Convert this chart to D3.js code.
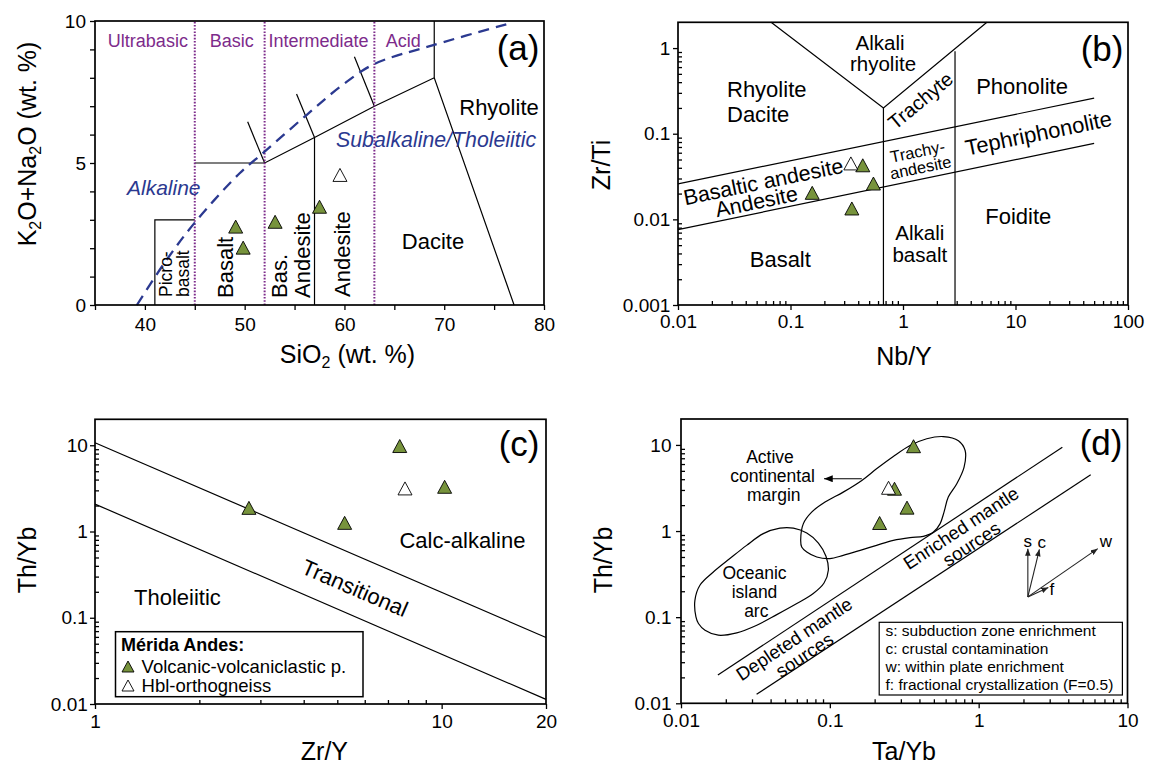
<!DOCTYPE html>
<html>
<head>
<meta charset="utf-8">
<script src="https://cdn.jsdelivr.net/npm/d3@7"></script>
<style>
  body { margin: 0; background: #fff; }
  text { font-family: "Liberation Sans", Arial, Helvetica, sans-serif; }
</style>
</head>
<body>
<script>
// ---------- values ----------

// (a) TAS: SiO2 vs K2O+Na2O
const tasVolcanic = [[49.1, 2.76], [49.85, 2.02], [53.05, 2.93], [57.5, 3.46]];
const tasOrthogneiss = [[59.55, 4.58]];
const tasFieldLines = [
    [[41, 0], [41, 3], [45, 3]],
    [[45, 5], [52, 5], [57, 5.9], [63, 7], [69, 8], [77, 0]],
    [[57, 0], [57, 5.9]],
    [[69, 8], [69, 10]],
    [[52, 5], [50.3, 6.45]],
    [[57, 5.9], [55.2, 7.43]],
    [[63, 7], [61, 8.74]]
];
const silicaLimits = [45, 52, 63];
const silicaClasses = ["Ultrabasic", "Basic", "Intermediate", "Acid"];
const alkalineDivide = [[39.2, 0], [42, 1.5], [45, 2.9], [49.5, 4.64], [52, 5.4], [56.2, 6.69],
    [59.6, 7.69], [62.9, 8.47], [68.9, 9.15], [76.6, 9.92]];

// (b) Nb/Y vs Zr/Ti
const nbyVolcanic = [[0.439, 0.0428], [0.546, 0.0262], [0.156, 0.0204], [0.351, 0.0134]];
const nbyOrthogneiss = [[0.344, 0.045]];
const nbyFieldLines = [
    [[0.0672, 2], [0.67, 0.2], [5.57, 2]],
    [[0.67, 0.2], [0.67, 0.001]],
    [[2.9, 0.92], [2.9, 0.001]],
    [[0.01, 0.026], [50, 0.26]],
    [[0.01, 0.0076], [50, 0.077]]
];

// (c) Zr/Y vs Th/Yb
const zryVolcanic = [[2.78, 1.88], [5.25, 1.26], [7.57, 9.8], [10.2, 3.3]];
const zryOrthogneiss = [[7.84, 3.16]];
const zryFieldLines = [
    [[1, 10.7], [20, 0.059]],
    [[1, 2.08], [20, 0.0113]]
];
const legendTitle = "Mérida Andes:";
const legendLabels = ["Volcanic-volcaniclastic p.", "Hbl-orthogneiss"];

// (d) Ta/Yb vs Th/Yb
const taybVolcanic = [[0.365, 9.66], [0.272, 3.1], [0.33, 1.87], [0.216, 1.24]];
const taybOrthogneiss = [[0.248, 3.18]];
const mantleArray = [
    [[0.0177, 0.0213], [3.65, 9.4]],
    [[0.0322, 0.0127], [5.66, 4.5]]
];
const acmField = [[0.0637, 0.78], [0.0664, 1.22], [0.0755, 1.66], [0.0929, 2.17], [0.123, 2.83],
    [0.164, 3.87], [0.206, 5.28], [0.267, 7.34], [0.346, 9.84], [0.448, 11.8], [0.579, 12.5],
    [0.731, 11.2], [0.811, 8.61], [0.798, 5.52], [0.713, 3.54], [0.625, 2.48], [0.585, 1.66],
    [0.551, 1.22], [0.497, 0.973], [0.425, 0.869], [0.346, 0.84], [0.267, 0.78], [0.206, 0.682],
    [0.16, 0.597], [0.123, 0.522], [0.1, 0.479], [0.0817, 0.5], [0.07, 0.571], [0.0647, 0.653]];
const oiaField = [[0.0126, 0.1008], [0.0124, 0.157], [0.0134, 0.235], [0.0165, 0.335], [0.0213, 0.479],
    [0.0276, 0.682], [0.0357, 0.933], [0.0462, 1.08], [0.0569, 1.08], [0.07, 0.948], [0.0838, 0.726],
    [0.0942, 0.509], [0.0977, 0.351], [0.0914, 0.249], [0.0774, 0.188], [0.06, 0.144], [0.044, 0.107],
    [0.0323, 0.0807], [0.0237, 0.0658], [0.0178, 0.0618], [0.0145, 0.0706], [0.0131, 0.0845]];
const vectorOrigin = [2.14, 0.172];
const vectorTips = [["s", [2.14, 0.625]], ["c", [2.56, 0.614]], ["w", [6.31, 0.625]], ["f", [2.94, 0.221]]];
const acmPointer = [[0.164, 4.05], [0.0914, 4.05]];
const vectorNotes = ["s: subduction zone enrichment", "c: crustal contamination",
    "w: within plate enrichment", "f: fractional crystallization (F=0.5)"];

// ---------- drawing ----------
const W = 1149, H = 765;
const GREEN = "#77933c", BLUE = "#2b3990", PURPLE = "#7d2b8b";

const svg = d3.select("body").append("svg").attr("width", W).attr("height", H);
svg.append("rect").attr("width", W).attr("height", H).attr("fill", "#fff");

const defs = svg.append("defs");
defs.append("marker").attr("id", "headBig")
    .attr("viewBox", "0 0 10 8").attr("refX", 10).attr("refY", 4)
    .attr("markerWidth", 9).attr("markerHeight", 7).attr("markerUnits", "userSpaceOnUse")
    .attr("orient", "auto")
    .append("path").attr("d", "M0,0 L10,4 L0,8 Z").attr("fill", "#000");
defs.append("marker").attr("id", "headSmall")
    .attr("viewBox", "0 0 10 8").attr("refX", 10).attr("refY", 4)
    .attr("markerWidth", 7).attr("markerHeight", 6).attr("markerUnits", "userSpaceOnUse")
    .attr("orient", "auto")
    .append("path").attr("d", "M0,0 L10,4 L0,8 Z").attr("fill", "#222");

function txt(g, s, x, y, o = {}) {
    const t = g.append("text").attr("x", x).attr("y", y).text(s)
        .attr("font-size", o.size || 22)
        .attr("fill", o.color || "#000")
        .attr("text-anchor", o.anchor || "middle");
    if (o.italic) t.attr("font-style", "italic");
    if (o.bold) t.attr("font-weight", "bold");
    if (o.mid) t.attr("dominant-baseline", "central");
    if (o.rotate) t.attr("transform", `rotate(${o.rotate},${x},${y})`);
    return t;
}

// triangle with its bounding box centred on the point
const TRI = "M0,-6.5L7,6.5L-7,6.5Z";
const TRI_SMALL = "M0,-5.5L6,5.5L-6,5.5Z";

function logMinors(scale) {
    const [a, b] = scale.domain();
    const out = [];
    for (let e = Math.floor(Math.log10(a)); e <= Math.ceil(Math.log10(b)); e++) {
        for (let k = 2; k <= 9; k++) {
            const v = k * Math.pow(10, e);
            if (v > a * 1.0001 && v < b * 0.9999) out.push(v);
        }
    }
    return out;
}

function axisStyle(g) {
    g.select(".domain").remove();
    g.selectAll("line").attr("stroke", "#000").attr("stroke-width", 1.3);
    g.selectAll("text").attr("font-size", 19).attr("fill", "#000");
}

function drawAxes(x, y, o) {
    const [xl, xr] = x.range(), [yb, yt] = y.range();
    svg.append("g").attr("transform", `translate(0,${yb})`)
        .call(d3.axisBottom(x).tickValues(o.xTicks).tickFormat(o.xFmt).tickSize(5).tickPadding(o.xPad))
        .call(axisStyle);
    svg.append("g").attr("transform", `translate(${xl},0)`)
        .call(d3.axisLeft(y).tickValues(o.yTicks).tickFormat(o.yFmt).tickSize(5).tickPadding(o.yPad))
        .call(axisStyle);
    if (o.xMinor) {
        svg.append("g").attr("transform", `translate(0,${yb})`)
            .call(d3.axisBottom(x).tickValues(o.xMinor).tickFormat("").tickSize(-4))
            .call(axisStyle);
    }
    if (o.yMinor) {
        svg.append("g").attr("transform", `translate(${xl},0)`)
            .call(d3.axisLeft(y).tickValues(o.yMinor).tickFormat("").tickSize(-4))
            .call(axisStyle);
    }
}

function frame(x, y) {
    const [xl, xr] = x.range(), [yb, yt] = y.range();
    svg.append("rect").attr("x", xl).attr("y", yt)
        .attr("width", xr - xl).attr("height", yb - yt)
        .attr("fill", "none").attr("stroke", "#000").attr("stroke-width", 1.7);
}

function fieldLines(g, x, y, lines, width = 1.2) {
    const line = d3.line().x(d => x(d[0])).y(d => y(d[1]));
    g.selectAll(null).data(lines).join("path")
        .attr("d", line).attr("fill", "none")
        .attr("stroke", "#000").attr("stroke-width", width);
}

function samples(g, x, y, volcanic, gneiss) {
    g.selectAll(null).data(volcanic).join("path")
        .attr("d", TRI)
        .attr("transform", d => `translate(${x(d[0])},${y(d[1])})`)
        .attr("fill", GREEN).attr("stroke", "#000").attr("stroke-width", 0.9);
    g.selectAll(null).data(gneiss).join("path")
        .attr("d", TRI)
        .attr("transform", d => `translate(${x(d[0])},${y(d[1])})`)
        .attr("fill", "#fff").attr("stroke", "#000").attr("stroke-width", 0.9);
}

function lineAngle(x, y, seg) {
    const dx = x(seg[1][0]) - x(seg[0][0]);
    const dy = y(seg[1][1]) - y(seg[0][1]);
    return Math.atan2(dy, dx) * 180 / Math.PI;
}

const logFmt = d => (d < 1 ? String(d) : d3.format("d")(d));

// ================= (a) =================
{
    const x = d3.scaleLinear().domain([35, 80]).range([95, 544]);
    const y = d3.scaleLinear().domain([0, 10]).range([305, 21]);
    const g = svg.append("g");

    fieldLines(g, x, y, tasFieldLines);

    g.selectAll(null).data(silicaLimits).join("line")
        .attr("x1", d => x(d)).attr("x2", d => x(d))
        .attr("y1", y(0)).attr("y2", y(10))
        .attr("stroke", PURPLE).attr("stroke-width", 2)
        .attr("stroke-dasharray", "1.6,1.6");

    g.append("path").datum(alkalineDivide)
        .attr("d", d3.line().x(d => x(d[0])).y(d => y(d[1])).curve(d3.curveCatmullRom))
        .attr("fill", "none").attr("stroke", BLUE).attr("stroke-width", 2.3)
        .attr("stroke-dasharray", "11,7");

    const classX = [40.3, 48.7, 57.4, 65.9];
    silicaClasses.forEach((c, i) => txt(g, c, x(classX[i]), 46.5, { size: 18, color: PURPLE }));

    txt(g, "Alkaline", 127, 195, { anchor: "start", size: 21, italic: true, color: BLUE });
    txt(g, "Subalkaline/Tholeiitic", 336, 146.7, { anchor: "start", size: 21.3, italic: true, color: BLUE });

    txt(g, "Rhyolite", 499, 115, { size: 22 });
    txt(g, "Dacite", 433, 249, { size: 22 });
    txt(g, "Picro-", 171.5, 297, { anchor: "start", size: 17.5, rotate: -90 });
    txt(g, "basalt", 189, 297, { anchor: "start", size: 17.5, rotate: -90 });
    txt(g, "Basalt", 233, 298, { anchor: "start", size: 22, rotate: -90 });
    txt(g, "Bas.", 286.5, 298, { anchor: "start", size: 22, rotate: -90 });
    txt(g, "Andesite", 310, 298, { anchor: "start", size: 22, rotate: -90 });
    txt(g, "Andesite", 350, 297, { anchor: "start", size: 22, rotate: -90 });
    txt(g, "(a)", 539.5, 59.5, { anchor: "end", size: 35 });

    samples(g, x, y, tasVolcanic, tasOrthogneiss);

    drawAxes(x, y, {
        xTicks: d3.range(35, 81, 5), xFmt: d => (d % 10 === 0 ? d : ""), xPad: 7.5,
        yTicks: d3.range(0, 11, 1), yFmt: d => (d % 5 === 0 ? d : ""), yPad: 4
    });
    frame(x, y);

    const yt = svg.append("text").attr("transform", "translate(35.5,144) rotate(-90)")
        .attr("text-anchor", "middle").attr("font-size", 25);
    yt.append("tspan").text("K");
    yt.append("tspan").text("2").attr("font-size", 16).attr("dy", 5);
    yt.append("tspan").text("O+Na").attr("dy", -5);
    yt.append("tspan").text("2").attr("font-size", 16).attr("dy", 5);
    yt.append("tspan").text("O (wt. %)").attr("dy", -5);

    const xt = svg.append("text").attr("x", 347.5).attr("y", 363)
        .attr("text-anchor", "middle").attr("font-size", 25);
    xt.append("tspan").text("SiO");
    xt.append("tspan").text("2").attr("font-size", 16).attr("dy", 5);
    xt.append("tspan").text(" (wt. %)").attr("dy", -5);
}

// ================= (b) =================
{
    const x = d3.scaleLog().domain([0.01, 100]).range([678, 1128]);
    const y = d3.scaleLog().domain([0.001, 2]).range([305, 22.3]);
    const g = svg.append("g");

    fieldLines(g, x, y, nbyFieldLines);

    const slant = lineAngle(x, y, nbyFieldLines[3]);
    const vRight = lineAngle(x, y, [nbyFieldLines[0][1], nbyFieldLines[0][2]]);

    txt(g, "Alkali", 880, 49.5, { size: 20.5 });
    txt(g, "rhyolite", 883, 70.5, { size: 20.5 });
    txt(g, "Rhyolite", 727, 96.7, { anchor: "start", size: 22 });
    txt(g, "Dacite", 727, 121.7, { anchor: "start", size: 22 });
    txt(g, "Phonolite", 1022, 94.3, { size: 22 });
    txt(g, "Trachyte", 920.5, 100.5, { size: 20, mid: true, rotate: vRight });
    txt(g, "Trachy-", 917.5, 151.3, { size: 16.5, mid: true, rotate: slant });
    txt(g, "andesite", 920.5, 167.3, { size: 16.5, mid: true, rotate: slant });
    txt(g, "Tephriphonolite", 1038.5, 133.3, { size: 22, mid: true, rotate: slant });
    txt(g, "Basaltic andesite", 763.5, 182, { size: 21.5, mid: true, rotate: slant });
    txt(g, "Andesite", 756.5, 202, { size: 21.5, mid: true, rotate: slant });
    txt(g, "Basalt", 780.3, 266.7, { size: 22 });
    txt(g, "Alkali", 919.8, 239.5, { size: 20.5 });
    txt(g, "basalt", 919.8, 261.7, { size: 20.5 });
    txt(g, "Foidite", 1018.3, 224, { size: 22 });
    txt(g, "(b)", 1123.5, 61, { anchor: "end", size: 35 });

    samples(g, x, y, nbyVolcanic, nbyOrthogneiss);

    drawAxes(x, y, {
        xTicks: [0.01, 0.1, 1, 10, 100], xFmt: logFmt, xPad: 4.8, xMinor: logMinors(x),
        yTicks: [0.001, 0.01, 0.1, 1], yFmt: logFmt, yPad: 2.6, yMinor: logMinors(y)
    });
    frame(x, y);

    svg.append("text").attr("transform", "translate(610,165) rotate(-90)")
        .attr("text-anchor", "middle").attr("font-size", 25).text("Zr/Ti");
    txt(svg, "Nb/Y", 904, 365, { size: 25 });
}

// ================= (c) =================
{
    const x = d3.scaleLog().domain([1, 20]).range([95, 546]);
    const y = d3.scaleLog().domain([0.01, 20]).range([704, 419.3]);
    const g = svg.append("g");

    fieldLines(g, x, y, zryFieldLines);
    const ang = lineAngle(x, y, zryFieldLines[0]);

    txt(g, "Calc-alkaline", 462.4, 548.3, { size: 22 });
    txt(g, "Transitional", 354.8, 588.3, { size: 22, mid: true, rotate: ang });
    txt(g, "Tholeiitic", 177.4, 605, { size: 22 });
    txt(g, "(c)", 539.5, 456, { anchor: "end", size: 35 });

    samples(g, x, y, zryVolcanic, zryOrthogneiss);

    drawAxes(x, y, {
        xTicks: [1, 10, 20], xFmt: logFmt, xPad: 5.8, xMinor: logMinors(x),
        yTicks: [0.01, 0.1, 1, 10], yFmt: logFmt, yPad: 2.2, yMinor: logMinors(y)
    });
    frame(x, y);

    // legend
    const lg = svg.append("g");
    lg.append("rect").attr("x", 115.5).attr("y", 631.7).attr("width", 247.5).attr("height", 65)
        .attr("fill", "#fff").attr("stroke", "#000").attr("stroke-width", 1.5);
    txt(lg, legendTitle, 121, 650.7, { anchor: "start", size: 18, bold: true });
    legendLabels.forEach((l, i) => {
        lg.append("path").attr("d", TRI_SMALL)
            .attr("transform", `translate(128,${666.5 + i * 19})`)
            .attr("fill", i === 0 ? GREEN : "#fff").attr("stroke", "#000").attr("stroke-width", 0.9);
        txt(lg, l, 141.6, 672.7 + i * 19, { anchor: "start", size: 18.5 });
    });

    svg.append("text").attr("transform", "translate(35.5,560) rotate(-90)")
        .attr("text-anchor", "middle").attr("font-size", 25).text("Th/Yb");
    txt(svg, "Zr/Y", 324.4, 760, { size: 25 });
}

// ================= (d) =================
{
    const x = d3.scaleLog().domain([0.01, 10]).range([681, 1127.5]);
    const y = d3.scaleLog().domain([0.01, 20]).range([703.3, 419]);
    const g = svg.append("g");

    fieldLines(g, x, y, mantleArray);
    const closed = d3.line().x(d => x(d[0])).y(d => y(d[1])).curve(d3.curveCatmullRomClosed.alpha(0.5));
    g.append("path").datum(acmField).attr("d", closed)
        .attr("fill", "none").attr("stroke", "#000").attr("stroke-width", 1.2);
    g.append("path").datum(oiaField).attr("d", closed)
        .attr("fill", "none").attr("stroke", "#000").attr("stroke-width", 1.2);

    g.append("line")
        .attr("x1", x(acmPointer[0][0])).attr("y1", y(acmPointer[0][1]))
        .attr("x2", x(acmPointer[1][0])).attr("y2", y(acmPointer[1][1]))
        .attr("stroke", "#000").attr("stroke-width", 1.2).attr("marker-end", "url(#headBig)");

    vectorTips.forEach(([k, tip]) => {
        g.append("line")
            .attr("x1", x(vectorOrigin[0])).attr("y1", y(vectorOrigin[1]))
            .attr("x2", x(tip[0])).attr("y2", y(tip[1]))
            .attr("stroke", "#222").attr("stroke-width", 1.1).attr("marker-end", "url(#headSmall)");
    });
    txt(g, "s", 1027.7, 546.5, { size: 17 });
    txt(g, "c", 1041.7, 548, { size: 17 });
    txt(g, "w", 1106, 546.7, { size: 17 });
    txt(g, "f", 1049.5, 595, { anchor: "start", size: 17 });

    const ang = lineAngle(x, y, mantleArray[0]);
    const dep = g.append("g").attr("transform", `translate(794,639) rotate(${ang})`);
    txt(dep, "Depleted mantle", 0, 0, { size: 18.5, mid: true });
    txt(dep, "sources", 0, 19, { size: 18.5, mid: true });
    const enr = g.append("g").attr("transform", `translate(961,528) rotate(${ang})`);
    txt(enr, "Enriched mantle", 0, 0, { size: 18.5, mid: true });
    txt(enr, "sources", 0, 19, { size: 18.5, mid: true });

    txt(g, "Active", 770, 463.3, { size: 17.5 });
    txt(g, "continental", 772.5, 482.3, { size: 17.5 });
    txt(g, "margin", 773.8, 501, { size: 17.5 });
    txt(g, "Oceanic", 754.5, 579.3, { size: 17.5 });
    txt(g, "island", 754.5, 598.3, { size: 17.5 });
    txt(g, "arc", 756.3, 617.3, { size: 17.5 });
    txt(g, "(d)", 1122.5, 454.5, { anchor: "end", size: 35 });

    samples(g, x, y, taybVolcanic, taybOrthogneiss);

    // vector key
    const kg = svg.append("g");
    kg.append("rect").attr("x", 879.2).attr("y", 622.3).attr("width", 243.2).attr("height", 72.7)
        .attr("fill", "#fff").attr("stroke", "#000").attr("stroke-width", 1.2);
    vectorNotes.forEach((n, i) => txt(kg, n, 885.5, 636 + i * 18, { anchor: "start", size: 15.5 }));

    drawAxes(x, y, {
        xTicks: [0.01, 0.1, 1, 10], xFmt: logFmt, xPad: 5, xMinor: logMinors(x),
        yTicks: [0.01, 0.1, 1, 10], yFmt: logFmt, yPad: 4.5, yMinor: logMinors(y)
    });
    frame(x, y);

    svg.append("text").attr("transform", "translate(612,560) rotate(-90)")
        .attr("text-anchor", "middle").attr("font-size", 25).text("Th/Yb");
    txt(svg, "Ta/Yb", 904, 760, { size: 25 });
}
</script>
</body>
</html>
